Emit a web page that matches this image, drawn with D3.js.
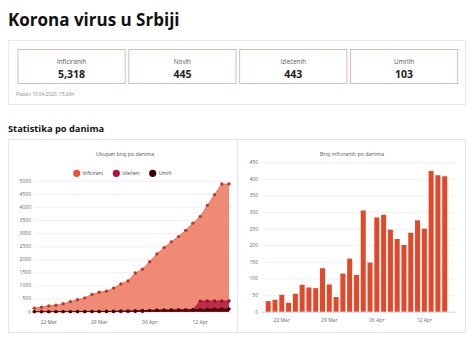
<html>
<head><meta charset="utf-8"></head>
<script src="https://d3js.org/d3.v7.min.js"></script>
<body style="margin:0;background:#fff">
</body>
<script>
    // summary numbers
    const statLabels = ["Inficiranih", "Novih", "Izle\u010denih", "Umrlih"];
    const statValues = ["5,318", "445", "443", "103"];

    // days 20 Mar .. 16 Apr
    const days = ["20 Mar","21 Mar","22 Mar","23 Mar","24 Mar","25 Mar","26 Mar","27 Mar","28 Mar","29 Mar","30 Mar","31 Mar",
        "01 Apr","02 Apr","03 Apr","04 Apr","05 Apr","06 Apr","07 Apr","08 Apr","09 Apr","10 Apr","11 Apr","12 Apr",
        "13 Apr","14 Apr","15 Apr","16 Apr"];
    const infected = [135,171,222,249,303,384,457,528,659,741,785,900,1060,1171,1476,1624,1908,2200,2447,2666,2867,3105,3380,3630,4054,4465,4873,4873];
    const recovered = [1,1,1,1,1,1,1,1,1,1,1,1,2,5,8,10,40,60,65,65,70,70,75,405,410,410,410,410];
    const deaths = [1,1,2,3,3,4,6,10,13,13,16,17,28,31,39,44,51,58,61,65,66,71,74,80,94,99,103,103];

    // new cases per day, 20 Mar .. 15 Apr
    const newDays = days.slice(0, 27);
    const newCases = [32,36,51,27,54,81,73,71,131,82,44,115,160,111,305,148,284,292,247,219,201,238,275,250,424,411,408];

    const tickIdx = [2, 9, 16, 23];
    const tickLabels = ["22 Mar", "29 Mar", "06 Apr", "12 Apr"];
    const lineTicks = [0,500,1000,1500,2000,2500,3000,3500,4000,4500,5000];
    const barTicks = [0,50,100,150,200,250,300,350,400,450];

    const font = "'Open Sans', sans-serif";
    let svg = d3.select("body").append("svg")
        .attr("width", 468)
        .attr("height", 342)
        .style("font-family", font);

    svg.append("text")
        .attr("x", 8).attr("y", 26)
        .attr("font-size", 17).attr("font-weight", 700)
        .attr("fill", "#111")
        .text("Korona virus u Srbiji");

    // summary card
    svg.append("rect")
        .attr("x", 8.5).attr("y", 40.5).attr("width", 457).attr("height", 64)
        .attr("fill", "#fff").attr("stroke", "#e8e8e8");
    let boxX = d3.scaleBand().domain(statLabels).range([18, 457.7]).paddingInner(0.033);
    let boxes = svg.selectAll(".stat").data(statLabels).join("g")
        .attr("class", "stat")
        .attr("transform", d => `translate(${boxX(d)},49.5)`);
    boxes.append("rect")
        .attr("width", boxX.bandwidth()).attr("height", 34)
        .attr("fill", "#fff").attr("stroke", "#dcbcb2");
    boxes.append("text")
        .attr("x", boxX.bandwidth() / 2).attr("y", 14.5)
        .attr("text-anchor", "middle").attr("font-size", 6.3).attr("fill", "#555")
        .text(d => d);
    boxes.append("text")
        .attr("x", boxX.bandwidth() / 2).attr("y", 28)
        .attr("text-anchor", "middle").attr("font-size", 10.5).attr("font-weight", 700).attr("fill", "#222")
        .text((d, i) => statValues[i]);
    svg.append("text")
        .attr("x", 16).attr("y", 95.5)
        .attr("font-size", 4.8).attr("fill", "#888")
        .text("Podaci 16.04.2020. 15:29h");

    svg.append("text")
        .attr("x", 8).attr("y", 132)
        .attr("font-size", 9.3).attr("font-weight", 700).attr("fill", "#111")
        .text("Statistika po danima");

    // panels
    svg.append("rect").attr("x", 8.5).attr("y", 139.5).attr("width", 229).attr("height", 193)
        .attr("fill", "#fff").attr("stroke", "#e6e6e6");
    svg.append("rect").attr("x", 237.5).attr("y", 139.5).attr("width", 228).attr("height", 193)
        .attr("fill", "#fff").attr("stroke", "#e6e6e6");

    // ---------- left: cumulative area chart ----------
    let x1 = d3.scalePoint().domain(days).range([34.3, 229]);
    let y1 = d3.scaleLinear().domain([0, 5000]).range([311.7, 180.7]);

    let g1 = svg.append("g");
    g1.selectAll(".grid").data(lineTicks).join("line")
        .attr("x1", 34).attr("x2", 232)
        .attr("y1", d => y1(d) + 0.5).attr("y2", d => y1(d) + 0.5)
        .attr("stroke", "#f0f0f0");
    g1.selectAll(".ylab").data(lineTicks).join("text")
        .attr("x", 31).attr("y", d => y1(d) + 1.8)
        .attr("text-anchor", "end").attr("font-size", 5).attr("fill", "#666")
        .text(d => d);

    const series = [
        {name: "Inficirani", values: infected, fill: "#ef8a74", line: "#e06550", dot: "#c0392b", legend: "#e8553a"},
        {name: "Izle\u010deni", values: recovered, fill: "#bd2d46", line: "#a8153a", dot: "#9b1030", legend: "#b0103c"},
        {name: "Umrli", values: deaths, fill: "#5a0a0a", line: "#3d0505", dot: "#3d0505", legend: "#3d0000"}
    ];
    let area = d3.area().x((d, i) => x1(days[i])).y0(y1(0)).y1(d => y1(d));
    let line = d3.line().x((d, i) => x1(days[i])).y(d => y1(d));
    series.forEach(s => {
        g1.append("path").attr("d", area(s.values)).attr("fill", s.fill);
        g1.append("path").attr("d", line(s.values)).attr("fill", "none").attr("stroke", s.line).attr("stroke-width", 0.8);
    });
    series.forEach(s => {
        g1.selectAll(null).data(s.values).join("circle")
            .attr("cx", (d, i) => x1(days[i])).attr("cy", d => y1(d))
            .attr("r", 1.7).attr("fill", s.dot);
    });
    g1.selectAll(".xlab").data(tickIdx).join("text")
        .attr("x", d => x1(days[d])).attr("y", 324)
        .attr("text-anchor", "middle").attr("font-size", 5).attr("fill", "#666")
        .text((d, i) => tickLabels[i]);

    g1.append("text").attr("x", 125).attr("y", 155.5)
        .attr("text-anchor", "middle").attr("font-size", 5.3).attr("fill", "#555")
        .text("Ukupan broj po danima");
    const legendX = [76.7, 116.3, 152.7];
    let leg = g1.selectAll(".leg").data(series).join("g")
        .attr("transform", (d, i) => `translate(${legendX[i]},173.3)`);
    leg.append("circle").attr("r", 3.6).attr("fill", d => d.legend);
    leg.append("text").attr("x", 6).attr("y", 1.8)
        .attr("font-size", 5).attr("fill", "#444").text(d => d.name);

    // ---------- right: new cases bar chart ----------
    let x2 = d3.scaleBand().domain(newDays).range([264.8, 448.1]).paddingInner(0.26).paddingOuter(0.13);
    let y2 = d3.scaleLinear().domain([0, 450]).range([311.7, 162.3]);
    let g2 = svg.append("g");
    g2.selectAll(".grid").data(barTicks).join("line")
        .attr("x1", 262).attr("x2", 456)
        .attr("y1", d => y2(d) + 0.5).attr("y2", d => y2(d) + 0.5)
        .attr("stroke", d => d === 0 ? "#ccd6eb" : "#f0f0f0");
    g2.selectAll(".ylab").data(barTicks).join("text")
        .attr("x", 258).attr("y", d => y2(d) + 1.8)
        .attr("text-anchor", "end").attr("font-size", 5).attr("fill", "#666")
        .text(d => d);
    g2.selectAll(".bar").data(newCases).join("rect")
        .attr("x", (d, i) => x2(newDays[i])).attr("width", x2.bandwidth())
        .attr("y", d => y2(d)).attr("height", d => y2(0) - y2(d))
        .attr("fill", "#e2492b");
    g2.selectAll(".xlab").data(tickIdx).join("text")
        .attr("x", d => x2(newDays[d]) + x2.bandwidth() / 2).attr("y", 321.5)
        .attr("text-anchor", "middle").attr("font-size", 5).attr("fill", "#666")
        .text((d, i) => tickLabels[i]);
    g2.append("text").attr("x", 352).attr("y", 155.5)
        .attr("text-anchor", "middle").attr("font-size", 5.3).attr("fill", "#555")
        .text("Broj inficiranih po danima");
</script>
</html>
